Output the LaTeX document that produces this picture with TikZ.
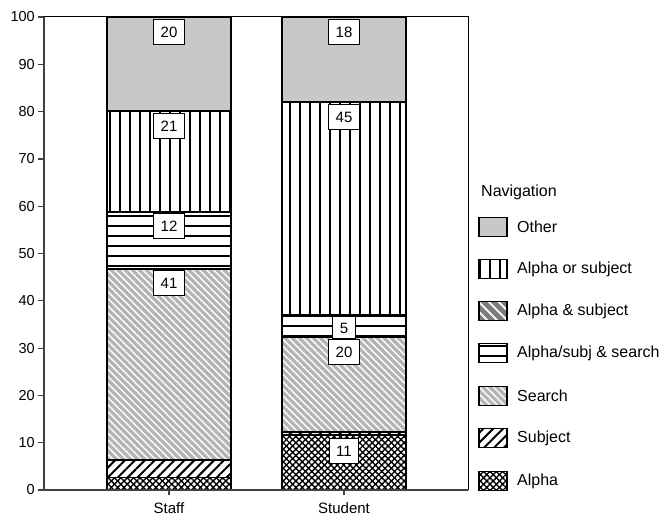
\documentclass[tikz,border=0pt]{standalone}
\usepackage{fontspec}
\setmainfont{Liberation Sans}
\usetikzlibrary{patterns.meta}
\definecolor{otherg}{HTML}{C8C8C8}
\definecolor{searchg}{HTML}{B4B4B4}
\definecolor{ansg}{HTML}{7C7C7C}
\definecolor{axisg}{HTML}{404040}
\tikzset{
  every node/.style={font=\fontsize{15}{18}\selectfont},
  segline/.style={draw=black, line width=1.2pt},
  pOther/.style={segline, fill=otherg},
  pAoS/.style={segline, preaction={fill=white}, pattern={Lines[angle=90,distance=10pt,line width=2.6pt]}, pattern color=black},
  pAnS/.style={segline, preaction={fill=ansg}, pattern={Lines[angle=-45,distance=7pt,line width=1.8pt]}, pattern color=white},
  pASS/.style={segline, preaction={fill=white}, pattern={Lines[angle=0,distance=10pt,line width=2.4pt]}, pattern color=black},
  pSearch/.style={segline, preaction={fill=searchg}, pattern={Lines[angle=-45,distance=5pt,line width=1.4pt]}, pattern color=white},
  pSubj/.style={segline, preaction={fill=white}, pattern={Lines[angle=45,distance=7pt,line width=2pt]}, pattern color=black},
  pAlpha/.style={segline, preaction={fill=white}, preaction={pattern={Lines[angle=45,distance=4.5pt,line width=1.4pt]}, pattern color=black}, pattern={Lines[angle=-45,distance=4.5pt,line width=1.4pt]}, pattern color=black},
  vlabel/.style={draw=black, line width=1pt, fill=white, inner xsep=7pt, inner ysep=7pt, text height=11pt, text depth=0pt, anchor=north},
  ticklab/.style={anchor=east, inner sep=0pt, font=\fontsize{14.5}{17}\selectfont},
  legtext/.style={anchor=west, inner sep=0pt, font=\fontsize{16}{19}\selectfont},
  catlab/.style={inner sep=0pt},
  axisline/.style={draw=axisg, line width=1.2pt},
}
\begin{document}
\begin{tikzpicture}[x=1pt,y=-1pt]
\useasboundingbox (0,0) rectangle (661,516);
\fill[white] (0,0) rectangle (661,516);

% frame
\draw[black, line width=1pt] (44,17) -- (468,17) -- (468,490);

% Staff bar
\path[pOther]  (107,17)    rectangle (231,111);
\path[pAoS]    (107,111)   rectangle (231,212);
\path[pASS]    (107,212)   rectangle (231,269);
\path[pSearch] (107,269)   rectangle (231,460);
\path[pSubj]   (107,460)   rectangle (231,477.3);
\path[pAlpha]  (107,477.3) rectangle (231,490);

% Student bar
\path[pOther]  (282,17)  rectangle (406,102);
\path[pAoS]    (282,102) rectangle (406,315);
\path[pASS]    (282,315) rectangle (406,337);
\path[pSearch] (282,337) rectangle (406,432);
\path[pSubj]   (282,432) rectangle (406,435);
\path[pAlpha]  (282,435) rectangle (406,490);

% value labels
\node[vlabel] (s20) at (169,19)  {20};
\node[vlabel] (s21) at (169,113) {21};
\node[vlabel] (s12) at (169,213) {12};
\node[vlabel] (s41) at (169,270) {41};
\node[vlabel] (t18) at (344,19)  {18};
\node[vlabel] (t45) at (344,104) {45};
\node[vlabel, inner ysep=5.5pt] (t5)  at (344,316) {5};
\node[vlabel] (t20) at (344,339) {20};
\node[vlabel] (t11) at (344,438) {11};

% axes
\draw[axisline] (44,17) -- (44,490);
\draw[axisline] (40,490) -- (468,490);
\foreach \k in {0,...,10}{
  \pgfmathsetmacro{\yy}{490-47.3*\k}
  \draw[axisline] (38,\yy) -- (44,\yy);
  \pgfmathtruncatemacro{\lab}{10*\k}
  \node[ticklab] (tl\k) at (35,\yy) {\lab};
}
\draw[axisline] (169,490) -- (169,495);
\draw[axisline] (344,490) -- (344,495);
\node[catlab] (cstaff) at (169,508) {Staff};
\node[catlab] (cstud) at (344,508) {Student};

% legend
\node[legtext] (legtitle) at (481,192) {Navigation};
\path[pOther]  (479,217.5) rectangle (507,236.5);
\node[legtext] (l1) at (517,227) {Other};
\path[pAoS]    (479,259.5) rectangle (507,278.5);
\node[legtext] (l2) at (517,269) {Alpha or subject};
\path[pAnS]    (479,301.5) rectangle (507,320.5);
\node[legtext] (l3) at (517,311) {Alpha \& subject};
\path[pASS]    (479,343.5) rectangle (507,362.5);
\node[legtext] (l4) at (517,353) {Alpha/subj \& search};
\path[pSearch] (479,386.5) rectangle (507,405.5);
\node[legtext] (l5) at (517,396) {Search};
\path[pSubj]   (479,428.5) rectangle (507,447.5);
\node[legtext] (l6) at (517,438) {Subject};
\path[pAlpha]  (479,471.5) rectangle (507,490.5);
\node[legtext] (l7) at (517,481) {Alpha};
\end{tikzpicture}
\end{document}
